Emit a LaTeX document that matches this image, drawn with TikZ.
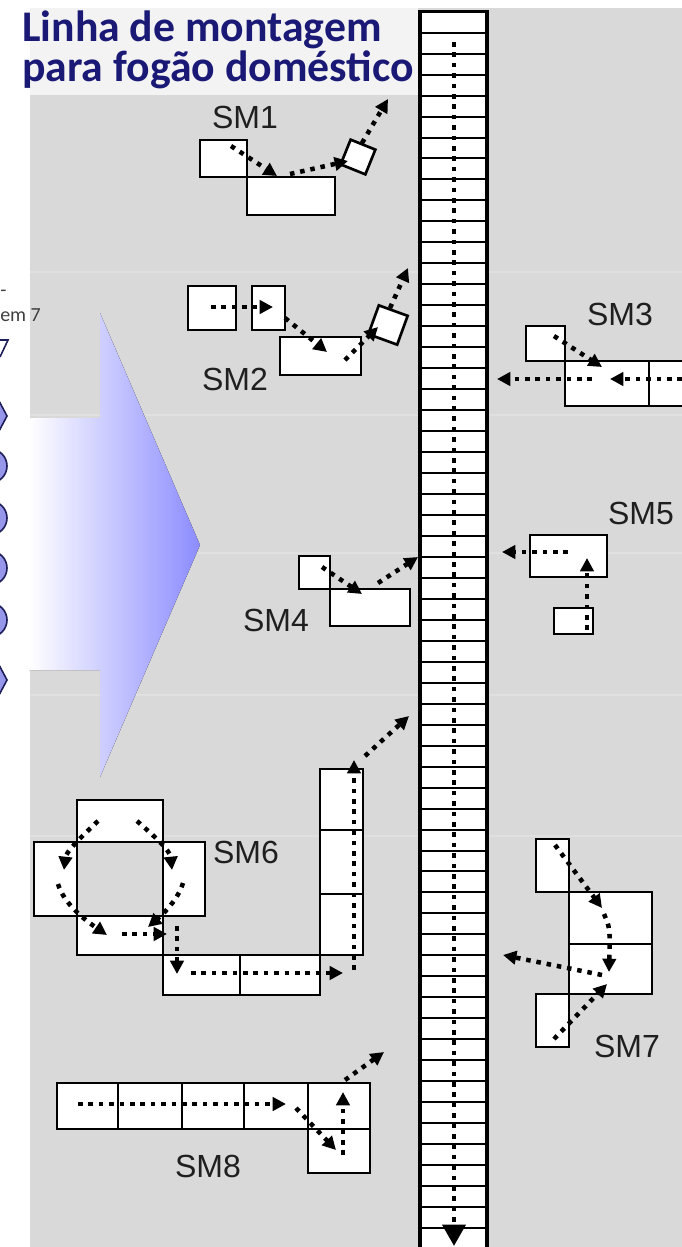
\documentclass[tikz,border=0pt]{standalone}
\usepackage{fontspec}
\setmainfont{Liberation Sans}
\newfontfamily\titlefont{Carlito}
\usetikzlibrary{arrows.meta,fit}
\definecolor{bgc}{RGB}{217,217,217}
\definecolor{titlebg}{RGB}{243,243,243}
\definecolor{navy}{RGB}{26,26,118}
\definecolor{chev}{RGB}{140,140,255}
\definecolor{hexfill}{RGB}{150,150,235}
\definecolor{hexline}{RGB}{30,30,90}
\newcommand\bxat[5]{\node[bx, fit={(#2,#3) (#4,#5)}] (#1) {};}
\begin{document}
\begin{tikzpicture}[x=0.75pt,y=-0.75pt,
  bx/.style={draw=black, fill=white, line width=2pt, inner sep=0pt, outer sep=0pt},
  dar/.style={line width=3.4pt, dash pattern=on 3.4pt off 4.4pt, -{Triangle[length=10pt,width=10pt]}},
  lab/.style={font=\fontsize{24}{28}\selectfont, text=black!88, inner sep=0pt},
  faint/.style={white, opacity=0.2, line width=1pt}]
\useasboundingbox (0,0) rectangle (682,1247);
\fill[white] (0,0) rectangle (682,1247);
\fill[bgc] (30,8) rectangle (682,1247);
\fill[titlebg] (30,8) rectangle (418,95);
\foreach \yy in {272,415,553,695,836} \draw[faint] (30,\yy) -- (682,\yy);
% chevron
\fill[left color=white, right color=chev] (29,418) -- (100,418) -- (100,313) -- (200,545) -- (100,777) -- (100,670) -- (29,670) -- cycle;
% left cut-off items
\begin{scope}
\clip (0,0) rectangle (30,1247);
\draw[hexline, line width=1.2pt] (0,340) -- (8,340) -- (0,357);
\filldraw[fill=hexfill, draw=hexline, line width=1.2pt] (7,416) -- (-2,399) -- (-30,399) -- (-30,433) -- (-2,433) -- cycle;
\foreach \cy in {466,518,568,620}
  \filldraw[fill=hexfill, draw=hexline, line width=1.2pt] (-10,\cy) circle[radius=17];
\filldraw[fill=hexfill, draw=hexline, line width=1.2pt] (7,680) -- (-2,663) -- (-30,663) -- (-30,697) -- (-2,697) -- cycle;
\end{scope}
\node[anchor=base west, inner sep=0pt, font=\titlefont\fontsize{15}{18}\selectfont, text=black!75] (dash) at (0,296) {-};
\node[anchor=base west, inner sep=0pt, font=\titlefont\fontsize{15}{18}\selectfont, text=black!75] (em) at (0,321) {em 7};
% title
\node[anchor=north west, inner sep=0pt, align=left, font=\titlefont\bfseries\fontsize{32.8}{26.5}\selectfont, text=navy] (title) at (22,11) {Linha de montagem\\para fogão doméstico};
% conveyor
\node[draw=black, fill=white, line width=2.4pt, inner sep=0pt, fit={(420,11.7) (487,1262)}] (conv) {};
\foreach \k in {1,...,58} \draw[line width=1.5pt] (420,{11.7+20.97*\k}) -- (487,{11.7+20.97*\k});
\coordinate (cvs) at (454,42);
\coordinate (cve) at (454,1246);
\draw[dar, -{Triangle[length=16pt,width=17pt]}] (cvs) -- (cve);
% SM1
\bxat{A}{200}{140}{247}{177}
\bxat{B}{247}{177}{335}{215}
\node[bx, minimum size=20pt, rotate=-22] (C) at (358,157) {};
\node[lab] (l1) at (245,117) {SM1};
\coordinate (a1s) at (231,146); \coordinate (a1e) at (277,176);
\coordinate (a2s) at (290,174); \coordinate (a2e) at (348,161);
\coordinate (a3s) at (362,143); \coordinate (a3e) at (388,99);
\draw[dar] (a1s) -- (a1e);
\draw[dar] (a2s) -- (a2e);
\draw[dar] (a3s) -- (a3e);
% SM2
\bxat{D}{188}{286}{236}{330}
\bxat{E}{252}{286}{285}{330}
\bxat{F}{280}{337}{361}{375}
\node[bx, minimum size=23pt, rotate=-20] (G) at (388,325) {};
\node[lab] (l2) at (235,379) {SM2};
\coordinate (b1s) at (211,307); \coordinate (b1e) at (273,307);
\coordinate (b2s) at (285,318); \coordinate (b2e) at (327,352);
\coordinate (b3s) at (345,360); \coordinate (b3e) at (378,327);
\coordinate (b4s) at (390,308); \coordinate (b4e) at (408,268);
\draw[dar] (b1s) -- (b1e);
\draw[dar] (b2s) -- (b2e);
\draw[dar] (b3s) -- (b3e);
\draw[dar] (b4s) -- (b4e);
% SM3
\bxat{H}{526}{326}{565}{361}
\bxat{I}{565}{361}{649}{406}
\bxat{J}{649}{361}{695}{406}
\node[lab] (l3) at (620,314) {SM3};
\coordinate (c1s) at (554,336); \coordinate (c1e) at (602,367);
\coordinate (c2s) at (682,379); \coordinate (c2e) at (610,379);
\coordinate (c3s) at (592,379); \coordinate (c3e) at (497,379);
\draw[dar] (c1s) -- (c1e);
\draw[dar] (c2s) -- (c2e);
\draw[dar] (c3s) -- (c3e);
% SM4
\bxat{K}{299}{556}{330}{589}
\bxat{L}{330}{589}{410}{626}
\node[lab] (l4) at (276,620) {SM4};
\coordinate (d1s) at (322,567); \coordinate (d1e) at (362,594);
\coordinate (d2s) at (378,583); \coordinate (d2e) at (418,557);
\draw[dar] (d1s) -- (d1e);
\draw[dar] (d2s) -- (d2e);
% SM5
\bxat{M}{530}{535}{607}{577}
\bxat{N}{554}{608}{593}{634}
\node[lab] (l5) at (641,513) {SM5};
\coordinate (e1s) at (587,630); \coordinate (e1e) at (587,558);
\coordinate (e2s) at (568,552); \coordinate (e2e) at (502,552);
\draw[dar] (e1s) -- (e1e);
\draw[dar] (e2s) -- (e2e);
% SM6
\bxat{T6}{77}{800}{163}{842}
\bxat{L6}{34}{842}{77}{916}
\bxat{R6}{163}{842}{205}{916}
\bxat{B6}{77}{916}{163}{955}
\bxat{S6a}{163}{955}{240}{995}
\bxat{S6b}{240}{955}{320}{995}
\bxat{V6a}{320}{769}{363}{830}
\bxat{V6b}{320}{830}{363}{894}
\bxat{V6c}{320}{894}{363}{955}
\node[lab] (l6) at (246,852) {SM6};
\coordinate (f1s) at (98,821); \coordinate (f1e) at (64,870);
\coordinate (f2s) at (58,884); \coordinate (f2e) at (107,935);
\coordinate (f3s) at (137,821); \coordinate (f3e) at (172,870);
\coordinate (f4s) at (183,883); \coordinate (f4e) at (148,927);
\coordinate (f5s) at (122,934); \coordinate (f5e) at (167,934);
\coordinate (f6s) at (177,926); \coordinate (f6e) at (177,974);
\coordinate (f7s) at (191,973); \coordinate (f7e) at (343,973);
\coordinate (f8s) at (354,970); \coordinate (f8e) at (354,760);
\coordinate (f9s) at (365,756); \coordinate (f9e) at (409,716);
\draw[dar] (f1s) .. controls (80,838) and (66,852) .. (f1e);
\draw[dar] (f2s) .. controls (64,904) and (85,920) .. (f2e);
\draw[dar] (f3s) .. controls (154,836) and (170,850) .. (f3e);
\draw[dar] (f4s) .. controls (178,900) and (162,915) .. (f4e);
\draw[dar] (f5s) -- (f5e);
\draw[dar] (f6s) -- (f6e);
\draw[dar] (f7s) -- (f7e);
\draw[dar] (f8s) -- (f8e);
\draw[dar] (f9s) -- (f9e);
% SM7
\bxat{P7}{536}{839}{569}{892}
\bxat{Q7}{569}{892}{652}{944}
\bxat{R7}{569}{944}{652}{994}
\bxat{S7}{536}{994}{569}{1047}
\node[lab] (l7) at (627,1046) {SM7};
\coordinate (g1s) at (555,845); \coordinate (g1e) at (602,908);
\coordinate (g2s) at (604,914); \coordinate (g2e) at (609,972);
\coordinate (g3s) at (554,1039); \coordinate (g3e) at (607,984);
\coordinate (g4s) at (602,975); \coordinate (g4e) at (503,955);
\draw[dar] (g1s) -- (g1e);
\draw[dar] (g2s) .. controls (610,928) .. (g2e);
\draw[dar] (g3s) -- (g3e);
\draw[dar] (g4s) -- (g4e);
% SM8
\bxat{U1}{57}{1083}{118}{1129}
\bxat{U2}{118}{1083}{182}{1129}
\bxat{U3}{182}{1083}{244}{1129}
\bxat{U4}{244}{1083}{308}{1129}
\bxat{U5}{308}{1083}{370}{1129}
\bxat{U6}{308}{1129}{370}{1173}
\node[lab] (l8) at (208,1166) {SM8};
\coordinate (h1s) at (78,1104); \coordinate (h1e) at (286,1104);
\coordinate (h2s) at (296,1108); \coordinate (h2e) at (336,1150);
\coordinate (h3s) at (343,1155); \coordinate (h3e) at (343,1092);
\coordinate (h4s) at (345,1080); \coordinate (h4e) at (384,1052);
\draw[dar] (h1s) -- (h1e);
\draw[dar] (h2s) -- (h2e);
\draw[dar] (h3s) -- (h3e);
\draw[dar] (h4s) -- (h4e);
\end{tikzpicture}
\end{document}
